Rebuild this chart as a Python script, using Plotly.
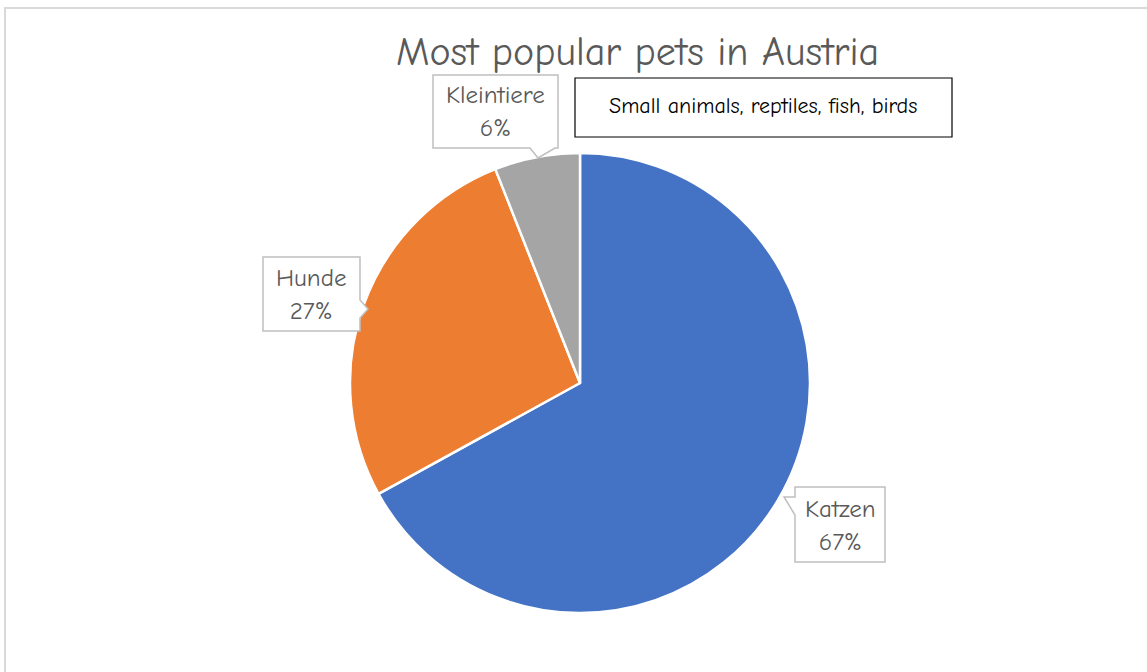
import plotly.graph_objects as go

W, H = 1147, 672
OFF = 0

categories = ["Katzen", "Hunde", "Kleintiere"]
values = [67, 27, 6]
colors = ["#4472C4", "#ED7D31", "#A5A5A5"]
title_text = "Most popular pets in Austria"
note_text = "Small animals, reptiles, fish, birds"

FONT = "Comic Sans MS, Comic Neue, Open Sans, sans-serif"

def px(x):
    return (x - OFF) / W

def py(y):
    return 1 - (y - OFF) / H

fig = go.Figure()
cx, cy, r = 580, 383, 230
fig.add_trace(go.Pie(
    labels=categories, values=values, sort=False, direction="clockwise",
    rotation=0, marker=dict(colors=colors, line=dict(color="white", width=2.5)),
    textinfo="none", hoverinfo="label+percent", showlegend=False,
    domain=dict(x=[px(cx - r), px(cx + r)], y=[py(cy + r), py(cy - r)]),
))

def path(points):
    s = "M " + " L ".join(f"{px(x):.5f},{py(y):.5f}" for x, y in points) + " Z"
    return s

shapes = []
# outer chart border
shapes.append(dict(type="rect", xref="paper", yref="paper", x0=px(5), x1=px(1170),
                   y0=py(700), y1=py(8), line=dict(color="#D9D9D9", width=2), fillcolor="rgba(0,0,0,0)", layer="below"))
# callouts
call_line = dict(color="#BFBFBF", width=1.5)
# Kleintiere (pointer at bottom)
shapes.append(dict(type="path", xref="paper", yref="paper", line=call_line, fillcolor="white",
                   path=path([(433, 75), (558, 75), (558, 148), (555, 148), (538, 158), (530, 148), (433, 148)])))
# Hunde (pointer at right)
shapes.append(dict(type="path", xref="paper", yref="paper", line=call_line, fillcolor="white",
                   path=path([(263, 257), (360, 257), (360, 300), (368, 309), (360, 318), (360, 331), (263, 331)])))
# Katzen (pointer at left)
shapes.append(dict(type="path", xref="paper", yref="paper", line=call_line, fillcolor="white",
                   path=path([(795, 487), (885, 487), (885, 562), (795, 562), (795, 515), (784, 497), (795, 497)])))
# note box
shapes.append(dict(type="rect", xref="paper", yref="paper", x0=px(575), x1=px(952),
                   y0=py(137), y1=py(78), line=dict(color="black", width=1.2), fillcolor="white"))

annotations = [
    dict(text=title_text, x=px(637), y=py(52), xref="paper", yref="paper", showarrow=False,
         font=dict(family=FONT, size=40, color="#595959"), xanchor="center", yanchor="middle"),
    dict(text=note_text, x=px(763), y=py(106), xref="paper", yref="paper", showarrow=False,
         font=dict(family=FONT, size=22, color="black"), xanchor="center", yanchor="middle"),
    dict(text=f"{categories[2]}<br>{values[2]}%", x=px(495), y=py(111), xref="paper", yref="paper", showarrow=False,
         font=dict(family=FONT, size=25, color="#595959"), xanchor="center", yanchor="middle"),
    dict(text=f"{categories[1]}<br>{values[1]}%", x=px(311), y=py(294), xref="paper", yref="paper", showarrow=False,
         font=dict(family=FONT, size=25, color="#595959"), xanchor="center", yanchor="middle"),
    dict(text=f"{categories[0]}<br>{values[0]}%", x=px(840), y=py(525), xref="paper", yref="paper", showarrow=False,
         font=dict(family=FONT, size=25, color="#595959"), xanchor="center", yanchor="middle"),
]

fig.update_layout(width=W, height=H, margin=dict(l=0, r=0, t=0, b=0),
                  paper_bgcolor="white", plot_bgcolor="white",
                  shapes=shapes, annotations=annotations)
fig.write_html("out.html", config={"displayModeBar": False},
               post_script="document.body.style.margin='0px';")
